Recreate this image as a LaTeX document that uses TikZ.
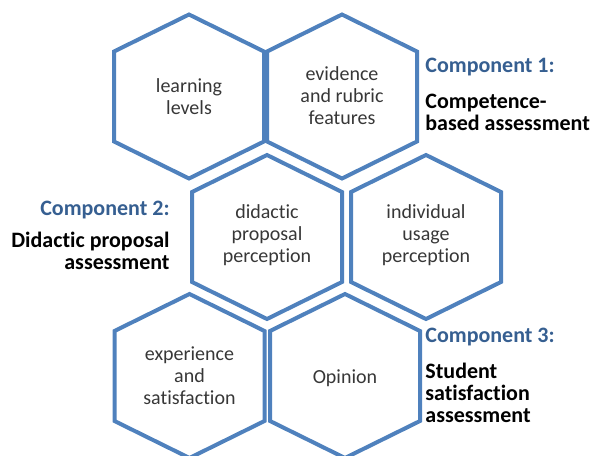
\documentclass[tikz,border=0pt]{standalone}
\usepackage{fontspec}
\setmainfont{Carlito}[RawFeature={-liga;-dlig;-clig}]
\definecolor{hexblue}{RGB}{79,129,189}
\definecolor{compblue}{RGB}{54,95,145}
\definecolor{hexgray}{RGB}{55,55,55}
\begin{document}
\begin{tikzpicture}[x=0.5pt,y=-0.5pt,
		hexline/.style={draw=hexblue, line width=2pt, line join=miter},
		hextext/.style={inner sep=0pt, align=center, text=hexgray, font=\fontsize{10}{11}\selectfont},
		comptitle/.style={inner sep=0pt, text=compblue, font=\bfseries\fontsize{11}{11}\selectfont},
		complabel/.style={inner sep=0pt, text=black, font=\bfseries\fontsize{11}{11}\selectfont}]
		\useasboundingbox (0,0) rectangle (596,456);
		% honeycomb cells
		\foreach \cx/\cy in {189/96.5, 342/96.5, 267/237, 426/237, 189.5/376, 345/376}
			\draw [hexline] (\cx,\cy) +(0,-82) -- +(75,-45) -- +(75,45) -- +(0,82) -- +(-75,45) -- +(-75,-45) -- cycle;
		\node [hextext] (learn) at (189,97) {learning\\levels};
		\node [hextext] (evid) at (342,96) {evidence\\and rubric\\features};
		\node [hextext] (didac) at (267,235) {didactic\\proposal\\perception};
		\node [hextext] (usage) at (426,235) {individual\\usage\\perception};
		\node [hextext] (exper) at (189.5,376) {experience\\and\\satisfaction};
		\node [hextext] (opin) at (345,378) {Opinion};
		% component labels
		\node [comptitle, anchor=west] (comp1) at (425,67) {Component 1:};
		\node [complabel, anchor=west, align=left] (comp1txt) at (425,112.5) {Competence-\\based assessment};
		\node [comptitle, anchor=east] (comp2) at (170,210) {Component 2:};
		\node [complabel, anchor=east, align=right] (comp2txt) at (170,250.5) {Didactic proposal\\assessment};
		\node [comptitle, anchor=west] (comp3) at (425,337) {Component 3:};
		\node [complabel, anchor=west, align=left] (comp3txt) at (425,392.5) {Student\\satisfaction\\assessment};
	\end{tikzpicture}
\end{document}
